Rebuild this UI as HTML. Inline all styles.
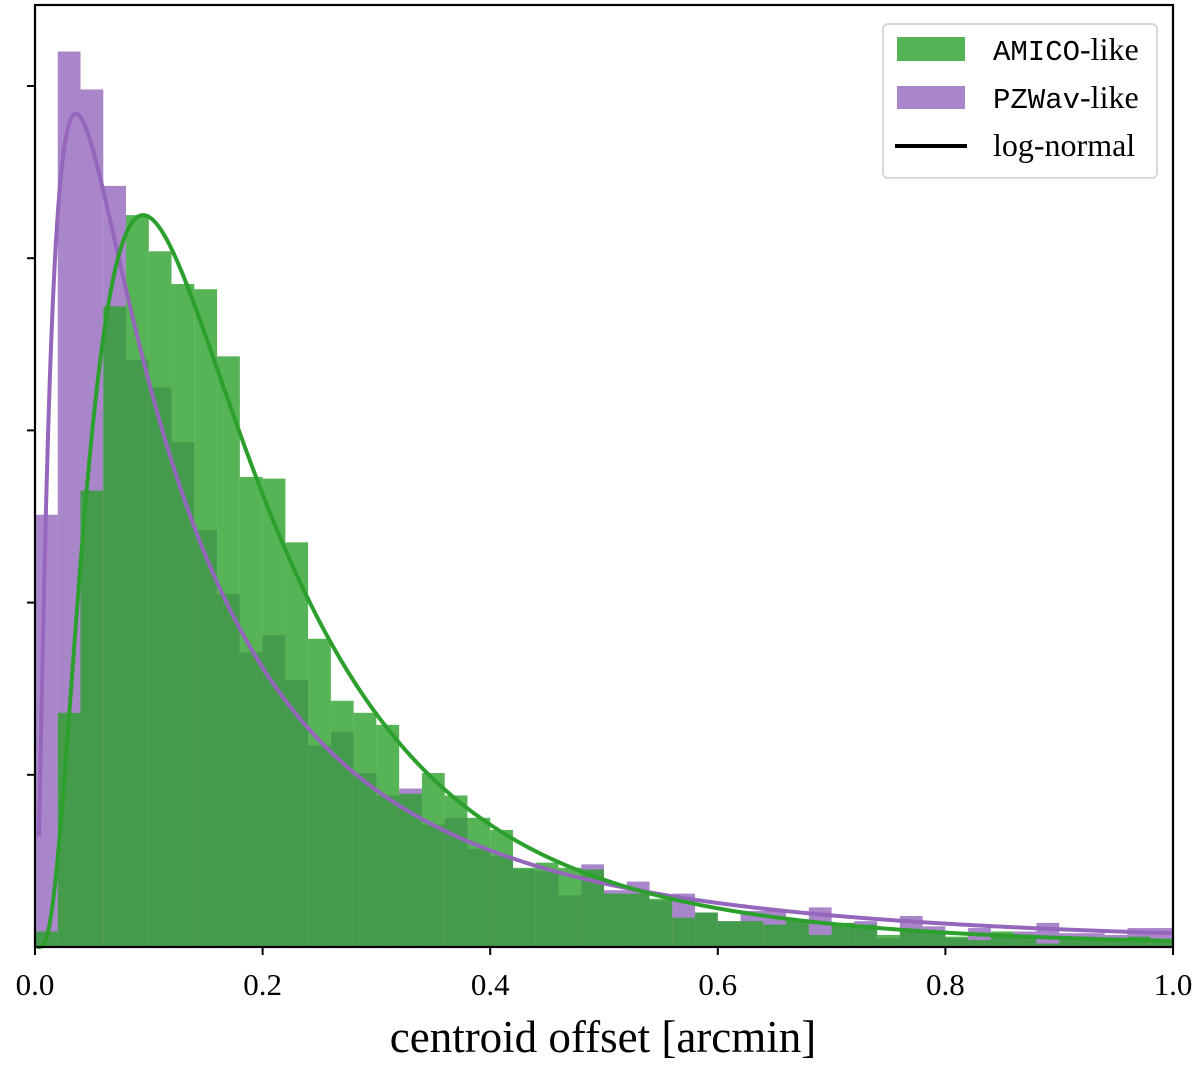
<!DOCTYPE html>
<html><head><meta charset="utf-8"><style>
html,body{margin:0;padding:0;background:#fff;}
svg{display:block;}
text{font-family:"Liberation Serif",serif;fill:#000;}
.mono{font-family:"Liberation Mono",monospace;}
</style></head><body>
<svg id="chart" width="1200" height="1065" viewBox="0 0 1200 1065">
<g id="bars-purple"></g>
<g id="bars-green"></g>
<g id="curves"></g>
<rect x="35" y="5" width="1138" height="942" fill="none" stroke="#000" stroke-width="2.2"/>
<g id="xticks"></g>
<g id="yticks"></g>
<text x="603" y="1052" font-size="45" text-anchor="middle">centroid offset [arcmin]</text>
<g>
<rect x="883" y="24" width="274" height="154" rx="5" fill="#fff" stroke="#d9d9d9" stroke-width="2"/>
<rect x="897" y="37" width="68" height="24" fill="#2ca02c" fill-opacity="0.8"/>
<text x="993" y="60" font-size="32"><tspan class="mono" font-size="29">AMICO</tspan>-like</text>
<rect x="897" y="86" width="68" height="23" fill="#9467bd" fill-opacity="0.8"/>
<text x="993" y="108" font-size="32"><tspan class="mono" font-size="29">PZWav</tspan>-like</text>
<line x1="895" y1="146" x2="967" y2="146" stroke="#000" stroke-width="4"/>
<text x="993" y="156" font-size="32">log-normal</text>
</g>
</svg>
<script>
const binWidth = 0.02;
const pzwavValues = [2.51,5.20,4.98,4.42,3.41,3.25,2.93,2.42,2.05,1.71,1.81,1.55,1.17,1.25,1.01,0.88,0.92,0.71,0.75,0.57,0.53,0.45,0.44,0.30,0.48,0.33,0.38,0.27,0.31,0.20,0.15,0.21,0.22,0.15,0.23,0.14,0.15,0.05,0.18,0.12,0.05,0.11,0.07,0.09,0.14,0.08,0.08,0.07,0.11,0.11];
const amicoValues = [0.09,1.36,2.65,3.72,4.25,4.04,3.85,3.82,3.43,2.73,2.72,2.35,1.79,1.43,1.36,1.29,0.89,1.01,0.88,0.75,0.68,0.46,0.49,0.46,0.45,0.31,0.31,0.28,0.17,0.20,0.15,0.15,0.13,0.16,0.07,0.14,0.13,0.07,0.10,0.09,0.06,0.04,0.09,0.06,0.02,0.04,0.04,0.04,0.06,0.04];
const amicoFit = {mode:0.095, peak:4.25, sigma:0.76};
const pzwavFit = {mode:0.036, peak:4.84, sigma:1.16};
const xTickValues = [0,0.2,0.4,0.6,0.8,1.0];
const xTickLabels = ["0.0","0.2","0.4","0.6","0.8","1.0"];
const yTickValues = [1,2,3,4,5];

const X0=35, X1=1173, Y0=947, Y1=5, YMAX=(947-5)/172.2;
const sx = v => X0 + v*(X1-X0);
const sy = v => Y0 - v/YMAX*(Y0-Y1);
const NS='http://www.w3.org/2000/svg';
function mk(tag, parent, attrs){const e=document.createElementNS(NS,tag);for(const k in attrs)e.setAttribute(k,attrs[k]);parent.appendChild(e);return e;}

function drawBars(gid, vals, color, nm){
  const g=document.getElementById(gid);
  vals.forEach((v,i)=>{
    const x=sx(i*binWidth), w=sx((i+1)*binWidth)-x;
    const r=mk('rect',g,{x:x,y:sy(v),width:w,height:Y0-sy(v),fill:color,'fill-opacity':0.8});
    
    
  });
}
drawBars('bars-purple', pzwavValues, '#9467bd', 'pzwav');
drawBars('bars-green', amicoValues, '#2ca02c', 'amico');

function drawCurve(p, color, nm, start){
  const g=document.getElementById('curves');
  let d='';
  for(let i=0;i<=1000;i++){
    const x=start+(1-start)*i/1000;
    const t=Math.log(x/p.mode);
    const y=p.peak*Math.exp(-t*t/(2*p.sigma*p.sigma));
    d+=(i?'L':'M')+sx(x).toFixed(2)+','+sy(y).toFixed(2);
  }
  const path=mk('path',g,{d:d,fill:'none',stroke:color,'stroke-width':4});
  
  
}
drawCurve(pzwavFit,'#9467bd','pzwav',0.0035);
drawCurve(amicoFit,'#2ca02c','amico',0.002);

const xg=document.getElementById('xticks');
xTickValues.forEach((v,i)=>{
  const l=mk('line',xg,{x1:sx(v),x2:sx(v),y1:Y0,y2:Y0+8,stroke:'#000','stroke-width':2});
  
  
  const t=mk('text',xg,{x:sx(v),y:995,'font-size':31,'text-anchor':'middle'});
  t.textContent=xTickLabels[i];
  
  
});
const yg=document.getElementById('yticks');
yTickValues.forEach(v=>{
  const l=mk('line',yg,{x1:X0-8,x2:X0,y1:sy(v),y2:sy(v),stroke:'#000','stroke-width':2});
  
  
});
</script>
</body></html>
